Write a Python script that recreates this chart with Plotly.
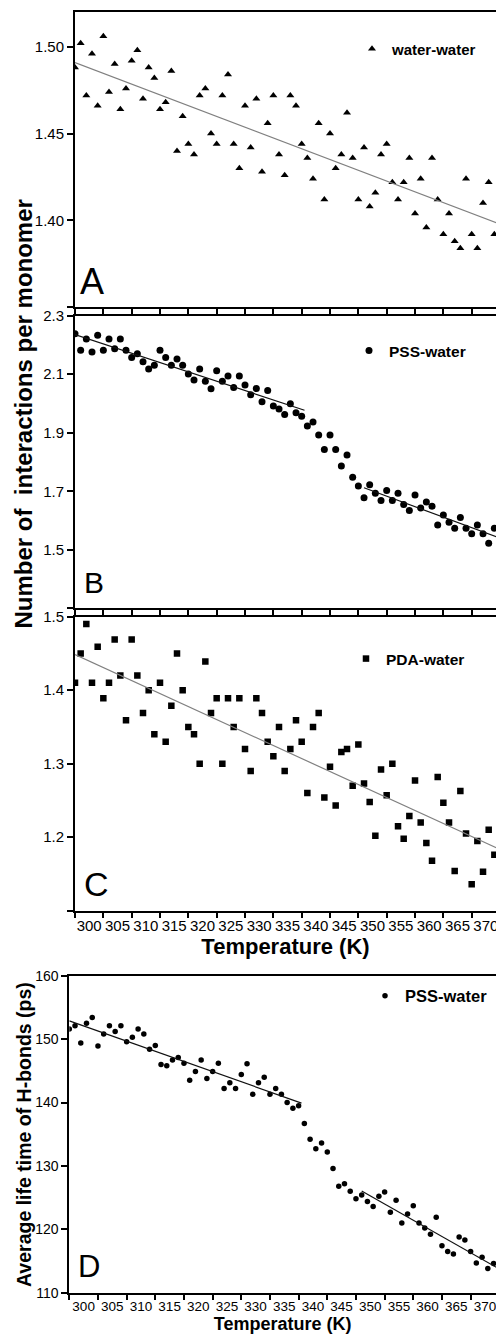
import numpy as np
import plotly.graph_objects as go

# ---------------- data ----------------
temperatures = list(range(300, 375))  # K, 1 K steps
x_tick_labels = ["300", "305", "310", "315", "320", "325", "330", "335",
                 "340", "345", "350", "355", "360", "365", "370"]

water_water = [1.488, 1.502, 1.472, 1.496, 1.466, 1.506, 1.474, 1.490, 1.464, 1.476,
               1.492, 1.498, 1.470, 1.488, 1.482, 1.464, 1.468, 1.486, 1.440, 1.460,
               1.444, 1.438, 1.472, 1.476, 1.450, 1.444, 1.472, 1.484, 1.444, 1.430,
               1.466, 1.442, 1.470, 1.428, 1.456, 1.472, 1.438, 1.426, 1.472, 1.466,
               1.444, 1.436, 1.424, 1.456, 1.412, 1.450, 1.430, 1.438, 1.462, 1.436,
               1.412, 1.442, 1.408, 1.416, 1.438, 1.444, 1.422, 1.412, 1.422, 1.436,
               1.404, 1.424, 1.396, 1.436, 1.412, 1.392, 1.404, 1.388, 1.384, 1.424,
               1.392, 1.384, 1.410, 1.422, 1.392]

pss_water = [2.238, 2.182, 2.220, 2.176, 2.233, 2.182, 2.220, 2.187, 2.220, 2.182,
             2.157, 2.170, 2.143, 2.118, 2.131, 2.182, 2.157, 2.131, 2.152, 2.131,
             2.101, 2.080, 2.118, 2.076, 2.050, 2.112, 2.076, 2.094, 2.055, 2.094,
             2.063, 2.030, 2.051, 2.006, 2.044, 1.991, 1.981, 1.962, 1.999, 1.968,
             1.956, 1.923, 1.937, 1.892, 1.843, 1.892, 1.843, 1.786, 1.824, 1.748,
             1.718, 1.678, 1.722, 1.693, 1.668, 1.703, 1.668, 1.693, 1.655, 1.634,
             1.687, 1.643, 1.663, 1.649, 1.585, 1.619, 1.594, 1.574, 1.610, 1.574,
             1.555, 1.585, 1.555, 1.522, 1.574]

pda_water = [1.410, 1.450, 1.490, 1.410, 1.459, 1.389, 1.410, 1.469, 1.420, 1.359,
             1.469, 1.420, 1.369, 1.400, 1.340, 1.410, 1.330, 1.379, 1.450, 1.400,
             1.350, 1.340, 1.300, 1.439, 1.369, 1.389, 1.300, 1.389, 1.350, 1.389,
             1.320, 1.290, 1.389, 1.369, 1.330, 1.310, 1.350, 1.290, 1.320, 1.359,
             1.330, 1.260, 1.350, 1.369, 1.254, 1.296, 1.243, 1.316, 1.320, 1.270,
             1.326, 1.273, 1.248, 1.202, 1.292, 1.257, 1.300, 1.215, 1.198, 1.229,
             1.277, 1.220, 1.192, 1.168, 1.282, 1.247, 1.220, 1.154, 1.263, 1.205,
             1.136, 1.195, 1.153, 1.210, 1.176]

hbond_lifetime = [151.6, 152.1, 149.4, 152.5, 153.4, 148.9, 150.8, 152.1, 151.2, 152.1,
                  149.6, 150.3, 151.6, 150.8, 148.4, 149.0, 146.0, 145.8, 146.7, 147.1,
                  146.2, 143.5, 144.9, 146.7, 143.8, 144.9, 146.2, 142.2, 143.1, 142.2,
                  144.4, 146.1, 141.3, 143.1, 144.0, 141.3, 142.2, 141.3, 140.0, 139.1,
                  139.5, 136.7, 134.2, 132.7, 133.6, 132.2, 129.6, 126.8, 127.2, 126.0,
                  124.8, 125.4, 124.4, 123.6, 125.2, 125.9, 122.7, 124.6, 121.0, 122.4,
                  123.7, 121.0, 120.2, 119.2, 121.9, 117.4, 116.5, 116.1, 118.8, 118.3,
                  116.5, 114.7, 115.6, 113.8, 114.6]

# temperature windows used for the linear fits (K)
fit_all = (300, 374)
fit_low = (300, 340)
fit_high = (351, 374)

# ---------------- layout constants ----------------
W, H = 496, 1336
FONT = "Arial, Liberation Sans, sans-serif"


def ydom(top, bottom):
    return [1 - bottom / H, 1 - top / H]


def fit_line(values, window):
    t = np.array(temperatures, dtype=float)
    v = np.array(values, dtype=float)
    m = (t >= window[0]) & (t <= window[1])
    k, b = np.polyfit(t[m], v[m], 1)
    xs = np.array([window[0], window[1] + 0.5])
    return xs, k * xs + b


fig = go.Figure()

panels = [
    ("x", "y", water_water, "water-water", "triangle-up", 7, "legend", [fit_all], "#808080"),
    ("x2", "y2", pss_water, "PSS-water", "circle", 7, "legend2", [fit_low, fit_high], "#111111"),
    ("x3", "y3", pda_water, "PDA-water", "square", 6.5, "legend3", [fit_all], "#808080"),
    ("x4", "y4", hbond_lifetime, "PSS-water", "circle", 5.5, "legend4", [fit_low, fit_high], "#111111"),
]

for xa, ya, vals, name, sym, size, leg, windows, lcol in panels:
    fig.add_trace(go.Scatter(
        x=temperatures, y=vals, mode="markers", name=name,
        marker=dict(symbol=sym, size=size, color="black"),
        xaxis=xa, yaxis=ya, legend=leg, showlegend=True))
    for w in windows:
        xs, ys = fit_line(vals, w)
        fig.add_trace(go.Scatter(
            x=xs, y=ys, mode="lines", line=dict(color=lcol, width=1.2),
            xaxis=xa, yaxis=ya, showlegend=False, hoverinfo="skip"))

minor_ticks = [300 + 5 * k for k in range(15)]
label_pos = [302.5 + 5 * k for k in range(15)]


def xaxis_cfg(left_px, px_per_k, anchor, labels, label_size, title=None, title_size=20):
    d = dict(
        domain=[left_px / W, 1.0], anchor=anchor, automargin=False,
        range=[300, 300 + (W - left_px) / px_per_k],
        showline=True, linecolor="black", linewidth=2, mirror=True,
        showgrid=False, zeroline=False,
        tickmode="array", tickvals=label_pos, ticktext=x_tick_labels,
        ticks="", showticklabels=labels, ticklabeloverflow="allow",
        tickfont=dict(family=FONT, size=label_size, color="black"),
        minor=dict(tickmode="array", tickvals=minor_ticks, ticks="outside",
                   ticklen=5, tickwidth=1.5, tickcolor="black", showgrid=False),
    )
    if title:
        d["title"] = dict(text=title, standoff=4,
                          font=dict(family=FONT, size=title_size, color="black", weight="bold"))
    return d


def yaxis_cfg(top, bottom, anchor, rng, tickvals, ticktext, size):
    return dict(
        domain=ydom(top, bottom), anchor=anchor, range=rng, automargin=False,
        showline=True, linecolor="black", linewidth=2, mirror=False,
        showgrid=False, zeroline=False,
        tickmode="array", tickvals=tickvals, ticktext=ticktext,
        ticks="outside", ticklen=6, tickwidth=1.5, tickcolor="black",
        tickfont=dict(family=FONT, size=size, color="black"),
    )


def legend_cfg(x_px, y_px, size):
    return dict(x=x_px / W, y=1 - y_px / H, xanchor="left", yanchor="middle",
                bgcolor="rgba(0,0,0,0)", borderwidth=0, itemwidth=30,
                font=dict(family=FONT, size=size, color="black", weight="bold"))


fig.update_layout(
    width=W, height=H, margin=dict(l=0, r=0, t=0, b=0, autoexpand=False),
    paper_bgcolor="white", plot_bgcolor="white",
    font=dict(family=FONT, color="black"),
    xaxis=xaxis_cfg(75, 5.667, "y", False, 15),
    xaxis2=xaxis_cfg(75, 5.667, "y2", False, 15),
    xaxis3=xaxis_cfg(75, 5.667, "y3", True, 15, "Temperature (K)", 22),
    xaxis4=xaxis_cfg(69.3, 5.733, "y4", True, 13.5, "Temperature (K)", 18),
    yaxis=yaxis_cfg(12, 307.3, "x", [1.35, 1.52], [1.35, 1.40, 1.45, 1.50],
                    ["", "1.40", "1.45", "1.50"], 15),
    yaxis2=yaxis_cfg(315.7, 608.3, "x2", [1.3, 2.3], [1.3, 1.5, 1.7, 1.9, 2.1, 2.3],
                     ["", "1.5", "1.7", "1.9", "2.1", "2.3"], 15),
    yaxis3=yaxis_cfg(616.7, 910.7, "x3", [1.1, 1.5], [1.1, 1.2, 1.3, 1.4, 1.5],
                     ["", "1.2", "1.3", "1.4", "1.5"], 15),
    yaxis4=yaxis_cfg(975.7, 1292.7, "x4", [110, 160], [110, 120, 130, 140, 150, 160],
                     ["110", "120", "130", "140", "150", "160"], 14),
    legend=legend_cfg(352, 49, 15),
    legend2=legend_cfg(349, 351, 15.5),
    legend3=legend_cfg(346, 659, 15.5),
    legend4=legend_cfg(365, 996, 16.5),
)

annotations = []
for letter, cx, cy, sz in [("A", 91.7, 281.7, 36), ("B", 94, 582.5, 30),
                           ("C", 96.7, 884, 34), ("D", 89, 1266, 31)]:
    annotations.append(dict(text=letter, x=cx / W, y=1 - cy / H, xref="paper", yref="paper",
                            xanchor="center", yanchor="middle", showarrow=False,
                            font=dict(family=FONT, size=sz, color="black")))

annotations.append(dict(text="Number of  interactions per monomer", textangle=-90,
                        x=22.5 / W, y=1 - 414 / H, xref="paper", yref="paper",
                        xanchor="center", yanchor="middle", showarrow=False,
                        font=dict(family=FONT, size=24, color="black", weight="bold")))
annotations.append(dict(text="Average life time of H-bonds (ps)", textangle=-90,
                        x=24 / W, y=1 - 1135 / H, xref="paper", yref="paper",
                        xanchor="center", yanchor="middle", showarrow=False,
                        font=dict(family=FONT, size=19.5, color="black", weight="bold")))
fig.update_layout(annotations=annotations)

fig.write_html("out.html", config={"displayModeBar": False},
               post_script="document.body.style.margin='0';document.body.style.overflow='hidden';")
